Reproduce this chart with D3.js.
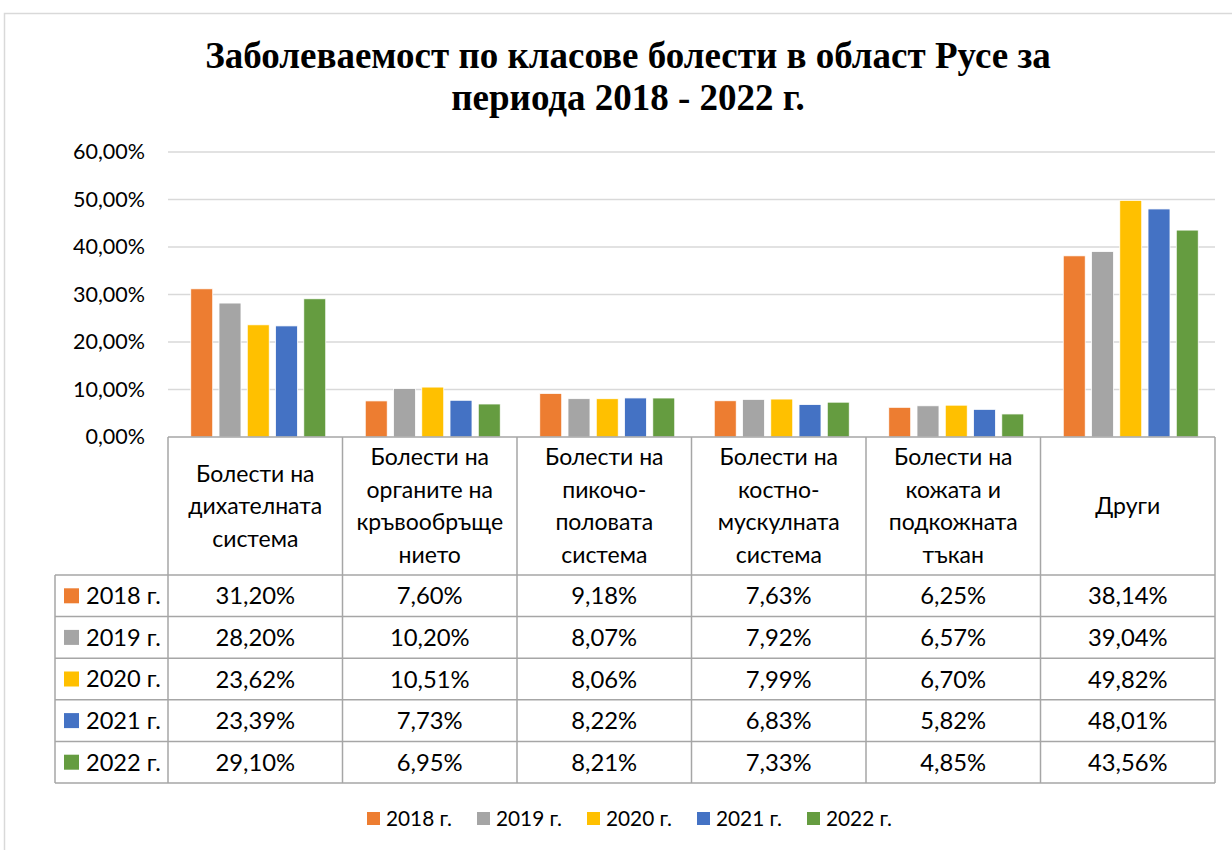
<!DOCTYPE html>
<html><head><meta charset="utf-8">
<script src="https://cdn.jsdelivr.net/npm/d3@7"></script>
<style>body{margin:0;background:#fff}svg{display:block}</style>
</head><body>
<svg id="c" width="1232" height="850"></svg>
<script>
const titleLines = ["Заболеваемост по класове болести в област Русе за", "периода 2018 - 2022 г."];
const categories = [
  ["Болести на", "дихателната", "система"],
  ["Болести на", "органите на", "кръвообръще", "нието"],
  ["Болести на", "пикочо-", "половата", "система"],
  ["Болести на", "костно-", "мускулната", "система"],
  ["Болести на", "кожата и", "подкожната", "тъкан"],
  ["Други"]
];
const series = ["2018 г.", "2019 г.", "2020 г.", "2021 г.", "2022 г."];
const colors = ["#ED7D31", "#A5A5A5", "#FFC000", "#4472C4", "#659C40"];
const v2018 = [31.20, 7.60, 9.18, 7.63, 6.25, 38.14];
const v2019 = [28.20, 10.20, 8.07, 7.92, 6.57, 39.04];
const v2020 = [23.62, 10.51, 8.06, 7.99, 6.70, 49.82];
const v2021 = [23.39, 7.73, 8.22, 6.83, 5.82, 48.01];
const v2022 = [29.10, 6.95, 8.21, 7.33, 4.85, 43.56];
const yTicks = [0, 10, 20, 30, 40, 50, 60];

(function () {
const values = [v2018, v2019, v2020, v2021, v2022];
const svg = d3.select("#c");
const font = "Lato, 'Noto Sans', sans-serif";
const fmt = v => v.toFixed(2).replace(".", ",") + "%";

svg.append("rect").attr("x", 4.5).attr("y", 13.5).attr("width", 1240).attr("height", 850)
  .attr("fill", "#fff").attr("stroke", "#d9d9d9").attr("stroke-width", 1.5);

svg.append("g").selectAll("text").data(titleLines).join("text")
  .attr("x", 628).attr("y", (d, i) => 68 + i * 42)
  .attr("text-anchor", "middle")
  .attr("font-family", "'Liberation Serif', 'Times New Roman', serif")
  .attr("font-weight", "bold").attr("font-size", 37).attr("fill", "#000")
  .text(d => d);

const pl = 168, pr = 1215, pt = 152, base = 437;
const x = d3.scaleBand().domain(d3.range(categories.length)).range([pl, pr]);
const y = d3.scaleLinear().domain([0, 60]).range([base, pt]);
const xs = d3.scaleBand().domain(d3.range(series.length)).range([0, 27 * 5]).paddingInner(6 / 27).paddingOuter(0);

svg.append("g").selectAll("line").data(yTicks.filter(t => t > 0)).join("line")
  .attr("x1", pl).attr("x2", pr).attr("y1", d => y(d)).attr("y2", d => y(d))
  .attr("stroke", "#d9d9d9").attr("stroke-width", 1.5);

const yAxis = d3.axisLeft(y).tickValues(yTicks).tickSize(0).tickPadding(23)
  .tickFormat(d => d.toFixed(2).replace(".", ",") + "%");
const ga = svg.append("g").attr("transform", `translate(${pl},0)`).call(yAxis);
ga.select(".domain").remove();
ga.selectAll("text").attr("font-family", font).attr("font-size", 21.5).attr("fill", "#000");

const groupW = 27 * 5 - 6;
values.forEach((vals, si) => {
  svg.append("g").selectAll("rect").data(vals).join("rect")
    .attr("x", (d, i) => x(i) + (x.bandwidth() - groupW) / 2 + xs(si))
    .attr("width", xs.bandwidth())
    .attr("y", d => y(d)).attr("height", d => y(0) - y(d))
    .attr("fill", colors[si]).attr("stroke", "#fff").attr("stroke-width", 0.8);
});

const rowTop = 575, rowH = 41.6, tabLeft = 55;
const tableBottom = rowTop + rowH * series.length;
const tc = "#a6a6a6";
const tg = svg.append("g");
tg.append("line").attr("x1", pl).attr("x2", pr).attr("y1", base).attr("y2", base).attr("stroke", tc).attr("stroke-width", 1.5);
d3.range(series.length + 1).forEach(r => {
  tg.append("line").attr("x1", tabLeft).attr("x2", pr)
    .attr("y1", rowTop + r * rowH).attr("y2", rowTop + r * rowH)
    .attr("stroke", tc).attr("stroke-width", 1.5);
});
d3.range(categories.length + 1).forEach(c => {
  const xx = c < categories.length ? x(c) : pr;
  tg.append("line").attr("x1", xx).attr("x2", xx).attr("y1", base).attr("y2", tableBottom)
    .attr("stroke", tc).attr("stroke-width", 1.5);
});
tg.append("line").attr("x1", tabLeft).attr("x2", tabLeft).attr("y1", rowTop).attr("y2", tableBottom)
  .attr("stroke", tc).attr("stroke-width", 1.5);

const lh = 32.5;
categories.forEach((lines, ci) => {
  const cx = x(ci) + x.bandwidth() / 2;
  const cy = (base + rowTop) / 2;
  tg.append("g").selectAll("text").data(lines).join("text")
    .attr("x", cx).attr("y", (d, i) => cy + (i - (lines.length - 1) / 2) * lh)
    .attr("dy", "0.35em").attr("text-anchor", "middle")
    .attr("font-family", font).attr("font-size", 23).attr("fill", "#000")
    .text(d => d);
});

values.forEach((vals, si) => {
  const cy = rowTop + si * rowH + rowH / 2;
  tg.append("rect").attr("x", 64).attr("y", cy - 7.5).attr("width", 15).attr("height", 15).attr("fill", colors[si]);
  tg.append("text").attr("x", 86).attr("y", cy).attr("dy", "0.36em")
    .attr("font-family", font).attr("font-size", 23.6).attr("fill", "#000").text(series[si]);
  tg.append("g").selectAll("text").data(vals).join("text")
    .attr("x", (d, i) => x(i) + x.bandwidth() / 2).attr("y", cy).attr("dy", "0.36em")
    .attr("text-anchor", "middle").attr("font-family", font).attr("font-size", 23.8).attr("fill", "#000")
    .text(d => fmt(d));
});

const lg = svg.append("g");
series.forEach((s, i) => {
  const lx = 367 + i * 110;
  lg.append("rect").attr("x", lx).attr("y", 812).attr("width", 13).attr("height", 13).attr("fill", colors[i]);
  lg.append("text").attr("x", lx + 19).attr("y", 818.5).attr("dy", "0.36em")
    .attr("font-family", font).attr("font-size", 20.8).attr("fill", "#000").text(s);
});
})();
</script>
</body></html>
